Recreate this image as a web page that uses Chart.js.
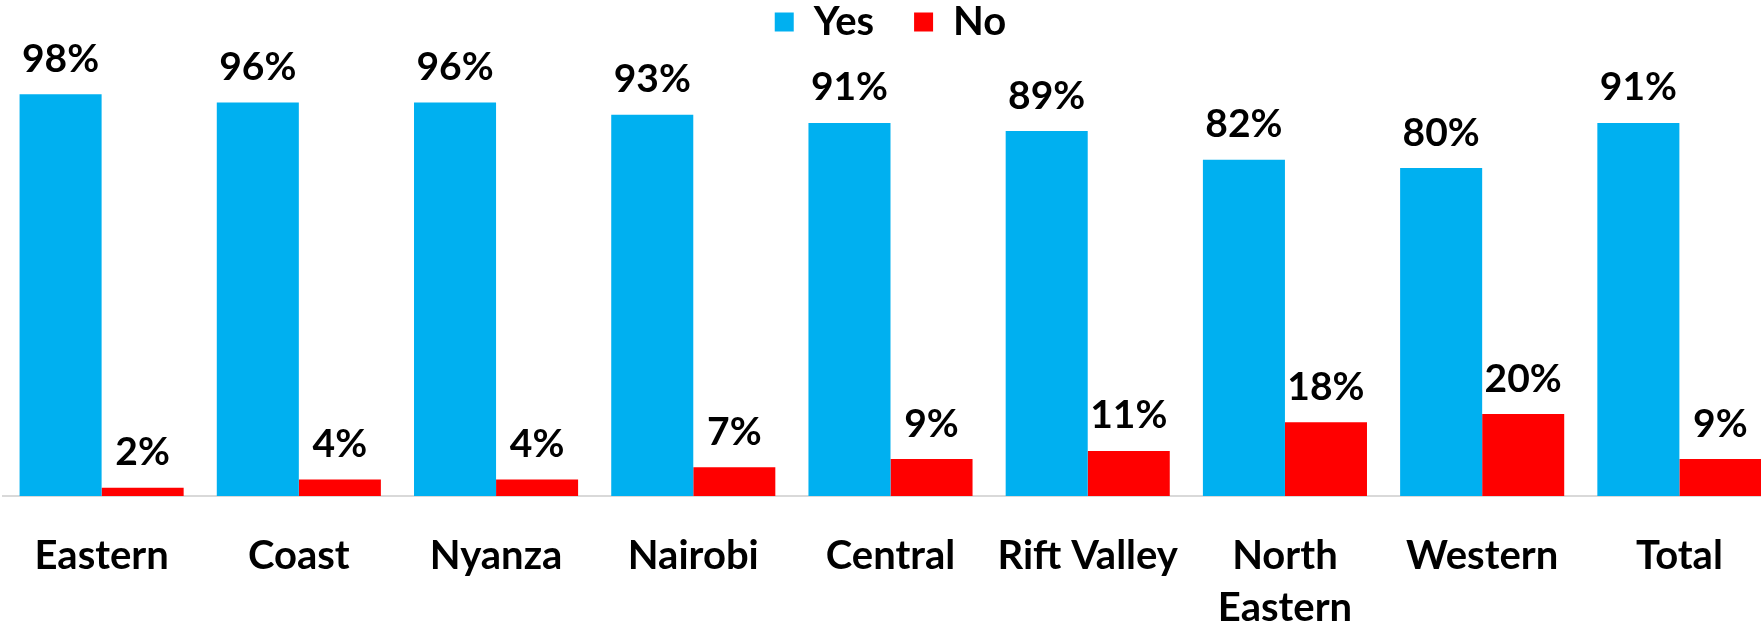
<!DOCTYPE html>
<html>
<head>
<meta charset="utf-8">
<script src="https://cdn.jsdelivr.net/npm/chart.js@4"></script>
<style>
  html, body { margin: 0; padding: 0; overflow: hidden; background: #fff; }
</style>
</head>
<body>
<canvas id="myChart" width="1778" height="621"></canvas>
<script>
const categories = ["Eastern", "Coast", "Nyanza", "Nairobi", "Central", "Rift Valley", ["North", "Eastern"], "Western", "Total"];
const yesValues = [98, 96, 96, 93, 91, 89, 82, 80, 91];
const noValues = [2, 4, 4, 7, 9, 11, 18, 20, 9];
const seriesNames = ["Yes", "No"];

const FONT = "Lato, 'Open Sans', sans-serif";

// percentage labels above each bar
const barLabels = {
  id: "barLabels",
  afterDatasetsDraw(chart) {
    const ctx = chart.ctx;
    ctx.save();
    ctx.font = "bold 39px " + FONT;
    ctx.fillStyle = "#000";
    ctx.textAlign = "center";
    ctx.textBaseline = "middle";
    chart.data.datasets.forEach((ds, i) => {
      chart.getDatasetMeta(i).data.forEach((bar, j) => {
        ctx.fillText(ds.data[j] + "%", bar.x, bar.y - 35);
      });
    });
    ctx.restore();
  },
};

// give the legend a fixed height so the plot starts lower
const legendSpace = {
  id: "legendSpace",
  beforeLayout(chart) {
    const legend = chart.legend;
    if (!legend || legend._patched) return;
    const fit = legend.fit;
    legend.fit = function () {
      fit.call(this);
      this.height = 124;
    };
    legend._patched = true;
  },
};

const ctx = document.getElementById("myChart");

const myChart = new Chart(ctx, {
  type: "bar",
  data: {
    labels: categories,
    datasets: [
      {
        label: seriesNames[0],
        data: yesValues,
        backgroundColor: "#00B0F0",
        categoryPercentage: 0.832,
        barPercentage: 1,
      },
      {
        label: seriesNames[1],
        data: noValues,
        backgroundColor: "#FF0000",
        categoryPercentage: 0.832,
        barPercentage: 1,
      },
    ],
  },
  options: {
    responsive: false,
    animation: false,
    layout: {
      padding: { left: 3, right: 0, top: -38, bottom: 0 },
    },
    plugins: {
      legend: {
        display: true,
        position: "top",
        labels: {
          boxWidth: 19,
          boxHeight: 19,
          padding: 40,
          color: "#000",
          font: { family: FONT, size: 40, weight: "bold" },
        },
      },
      tooltip: { enabled: false },
    },
    scales: {
      x: {
        grid: { display: false, drawTicks: false },
        border: { display: true, color: "#D9D9D9", width: 2 },
        ticks: {
          color: "#000",
          padding: 34,
          maxRotation: 0,
          autoSkip: false,
          font: { family: FONT, size: 40, weight: "bold", lineHeight: 1.3 },
        },
        afterFit: (scale) => {
          scale.height = 125;
        },
      },
      y: {
        display: false,
        min: 0,
        max: 100,
      },
    },
  },
  plugins: [barLabels, legendSpace],
});
</script>
</body>
</html>
